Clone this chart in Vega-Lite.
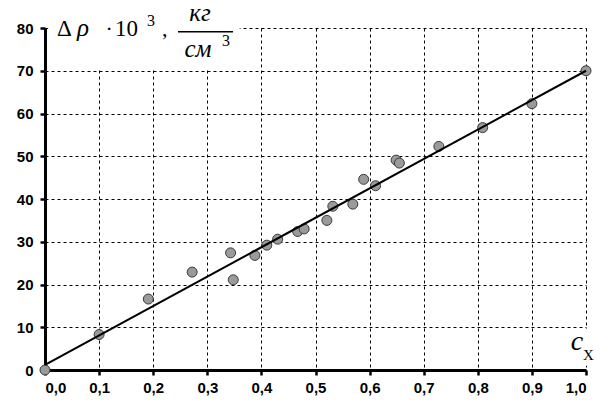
{
  "$schema": "https://vega.github.io/schema/vega-lite/v6.json",
  "description": "Density change vs concentration with a linear fit.",
  "autosize": {"type": "none"},
  "padding": {"left": 45, "top": 28, "right": 20, "bottom": 39},
  "width": 541,
  "height": 342,
  "background": "white",
  "datasets": {
    "points": [
      {"cx": 0.0, "drho": 0.0},
      {"cx": 0.1, "drho": 8.3},
      {"cx": 0.191, "drho": 16.6},
      {"cx": 0.272, "drho": 22.9},
      {"cx": 0.343, "drho": 27.4},
      {"cx": 0.348, "drho": 21.1},
      {"cx": 0.388, "drho": 26.8},
      {"cx": 0.41, "drho": 29.2},
      {"cx": 0.43, "drho": 30.6},
      {"cx": 0.467, "drho": 32.4},
      {"cx": 0.479, "drho": 33.0},
      {"cx": 0.521, "drho": 35.0},
      {"cx": 0.532, "drho": 38.3},
      {"cx": 0.569, "drho": 38.8},
      {"cx": 0.589, "drho": 44.6},
      {"cx": 0.611, "drho": 43.1},
      {"cx": 0.649, "drho": 49.1},
      {"cx": 0.655, "drho": 48.4},
      {"cx": 0.728, "drho": 52.3},
      {"cx": 0.809, "drho": 56.7},
      {"cx": 0.9, "drho": 62.3},
      {"cx": 1.0, "drho": 70.0}
    ],
    "fit": [
      {"cx": 0.0, "drho": 1.2},
      {"cx": 1.0, "drho": 70.0}
    ],
    "one": [{}]
  },
  "layer": [
    {
      "data": {"name": "one"},
      "mark": {"type": "rect", "color": "white"},
      "encoding": {
        "x": {"datum": 0.006, "type": "quantitative", "scale": {"domain": [0, 1]}, "title": null},
        "x2": {"datum": 0.36},
        "y": {"datum": 70.3, "type": "quantitative", "scale": {"domain": [0, 80]}, "title": null},
        "y2": {"datum": 80.4}
      }
    },
    {
      "data": {"name": "one"},
      "mark": {"type": "rect", "color": "white"},
      "encoding": {
        "x": {"datum": 0.968, "type": "quantitative", "scale": {"domain": [0, 1]}, "title": null},
        "x2": {"datum": 1.03},
        "y": {"datum": 1.0, "type": "quantitative", "scale": {"domain": [0, 80]}, "title": null},
        "y2": {"datum": 9.6}
      }
    },
    {
      "data": {"name": "points"},
      "mark": {"type": "circle", "size": 100, "fill": "#9a9a9a", "stroke": "#3a3a3a", "strokeWidth": 1, "opacity": 1},
      "encoding": {
        "x": {
          "field": "cx",
          "type": "quantitative",
          "scale": {"domain": [0, 1], "nice": false},
          "title": null,
          "axis": {
            "values": [0, 0.1, 0.2, 0.3, 0.4, 0.5, 0.6, 0.7, 0.8, 0.9, 1.0],
            "labelExpr": "replace(format(datum.value, '.1f'), '.', ',')",
            "labelPadding": 5
          }
        },
        "y": {
          "field": "drho",
          "type": "quantitative",
          "scale": {"domain": [0, 80], "nice": false},
          "title": null,
          "axis": {
            "values": [0, 10, 20, 30, 40, 50, 60, 70, 80],
            "format": "d",
            "labelPadding": 7
          }
        }
      }
    },
    {
      "data": {"name": "fit"},
      "mark": {"type": "line", "color": "black", "strokeWidth": 2},
      "encoding": {
        "x": {"field": "cx", "type": "quantitative", "scale": {"domain": [0, 1]}, "title": null},
        "y": {"field": "drho", "type": "quantitative", "scale": {"domain": [0, 80]}, "title": null}
      }
    },
    {
      "data": {"name": "one"},
      "mark": {"type": "rule", "color": "black", "strokeWidth": 1.5},
      "encoding": {
        "x": {"datum": 0.2458, "type": "quantitative", "scale": {"domain": [0, 1]}, "title": null},
        "x2": {"datum": 0.3475},
        "y": {"datum": 79.1, "type": "quantitative", "scale": {"domain": [0, 80]}, "title": null}
      }
    },
    {
      "data": {"name": "one"},
      "mark": {"type": "text", "text": "Δ", "font": "Liberation Serif, DejaVu Serif, serif", "fontSize": 23, "align": "left", "baseline": "alphabetic", "color": "black"},
      "encoding": {
        "x": {"datum": 0.0222, "type": "quantitative", "scale": {"domain": [0, 1]}, "title": null},
        "y": {"datum": 78.1, "type": "quantitative", "scale": {"domain": [0, 80]}, "title": null}
      }
    },
    {
      "data": {"name": "one"},
      "mark": {"type": "text", "text": "ρ", "font": "Liberation Serif, DejaVu Serif, serif", "fontSize": 25, "fontStyle": "italic", "align": "left", "baseline": "alphabetic", "color": "black"},
      "encoding": {
        "x": {"datum": 0.059, "type": "quantitative", "scale": {"domain": [0, 1]}, "title": null},
        "y": {"datum": 78.1, "type": "quantitative", "scale": {"domain": [0, 80]}, "title": null}
      }
    },
    {
      "data": {"name": "one"},
      "mark": {"type": "text", "text": "·", "font": "Liberation Serif, DejaVu Serif, serif", "fontSize": 22, "align": "left", "baseline": "alphabetic", "color": "black"},
      "encoding": {
        "x": {"datum": 0.112, "type": "quantitative", "scale": {"domain": [0, 1]}, "title": null},
        "y": {"datum": 78.1, "type": "quantitative", "scale": {"domain": [0, 80]}, "title": null}
      }
    },
    {
      "data": {"name": "one"},
      "mark": {"type": "text", "text": "10", "font": "Liberation Serif, DejaVu Serif, serif", "fontSize": 23, "align": "left", "baseline": "alphabetic", "color": "black"},
      "encoding": {
        "x": {"datum": 0.1294, "type": "quantitative", "scale": {"domain": [0, 1]}, "title": null},
        "y": {"datum": 78.1, "type": "quantitative", "scale": {"domain": [0, 80]}, "title": null}
      }
    },
    {
      "data": {"name": "one"},
      "mark": {"type": "text", "text": "3", "font": "Liberation Serif, DejaVu Serif, serif", "fontSize": 16, "align": "left", "baseline": "alphabetic", "color": "black"},
      "encoding": {
        "x": {"datum": 0.1885, "type": "quantitative", "scale": {"domain": [0, 1]}, "title": null},
        "y": {"datum": 80.5, "type": "quantitative", "scale": {"domain": [0, 80]}, "title": null}
      }
    },
    {
      "data": {"name": "one"},
      "mark": {"type": "text", "text": ",", "font": "Liberation Serif, DejaVu Serif, serif", "fontSize": 22, "align": "left", "baseline": "alphabetic", "color": "black"},
      "encoding": {
        "x": {"datum": 0.2163, "type": "quantitative", "scale": {"domain": [0, 1]}, "title": null},
        "y": {"datum": 78.1, "type": "quantitative", "scale": {"domain": [0, 80]}, "title": null}
      }
    },
    {
      "data": {"name": "one"},
      "mark": {"type": "text", "text": "кг", "font": "Liberation Serif, DejaVu Serif, serif", "fontSize": 25, "fontStyle": "italic", "align": "center", "baseline": "alphabetic", "color": "black"},
      "encoding": {
        "x": {"datum": 0.2865, "type": "quantitative", "scale": {"domain": [0, 1]}, "title": null},
        "y": {"datum": 81.7, "type": "quantitative", "scale": {"domain": [0, 80]}, "title": null}
      }
    },
    {
      "data": {"name": "one"},
      "mark": {"type": "text", "text": "см", "font": "Liberation Serif, DejaVu Serif, serif", "fontSize": 25, "fontStyle": "italic", "align": "center", "baseline": "alphabetic", "color": "black"},
      "encoding": {
        "x": {"datum": 0.2828, "type": "quantitative", "scale": {"domain": [0, 1]}, "title": null},
        "y": {"datum": 73.1, "type": "quantitative", "scale": {"domain": [0, 80]}, "title": null}
      }
    },
    {
      "data": {"name": "one"},
      "mark": {"type": "text", "text": "3", "font": "Liberation Serif, DejaVu Serif, serif", "fontSize": 16, "align": "left", "baseline": "alphabetic", "color": "black"},
      "encoding": {
        "x": {"datum": 0.3272, "type": "quantitative", "scale": {"domain": [0, 1]}, "title": null},
        "y": {"datum": 75.7, "type": "quantitative", "scale": {"domain": [0, 80]}, "title": null}
      }
    },
    {
      "data": {"name": "one"},
      "mark": {"type": "text", "text": "c", "font": "Liberation Serif, DejaVu Serif, serif", "fontSize": 28, "fontStyle": "italic", "align": "left", "baseline": "alphabetic", "color": "black"},
      "encoding": {
        "x": {"datum": 0.972, "type": "quantitative", "scale": {"domain": [0, 1]}, "title": null},
        "y": {"datum": 4.7, "type": "quantitative", "scale": {"domain": [0, 80]}, "title": null}
      }
    },
    {
      "data": {"name": "one"},
      "mark": {"type": "text", "text": "X", "font": "Liberation Serif, DejaVu Serif, serif", "fontSize": 15, "align": "left", "baseline": "alphabetic", "color": "black"},
      "encoding": {
        "x": {"datum": 0.9945, "type": "quantitative", "scale": {"domain": [0, 1]}, "title": null},
        "y": {"datum": 2.4, "type": "quantitative", "scale": {"domain": [0, 80]}, "title": null}
      }
    }
  ],
  "config": {
    "view": {"stroke": null},
    "axis": {
      "domainColor": "black",
      "domainWidth": 3,
      "tickColor": "black",
      "tickWidth": 2.5,
      "tickSize": 5,
      "labelFont": "Liberation Sans",
      "labelFontSize": 15,
      "labelFontWeight": "bold",
      "labelColor": "black",
      "grid": true,
      "gridColor": "black",
      "gridOpacity": 1,
      "gridWidth": 1,
      "gridDash": [3, 3]
    }
  }
}
